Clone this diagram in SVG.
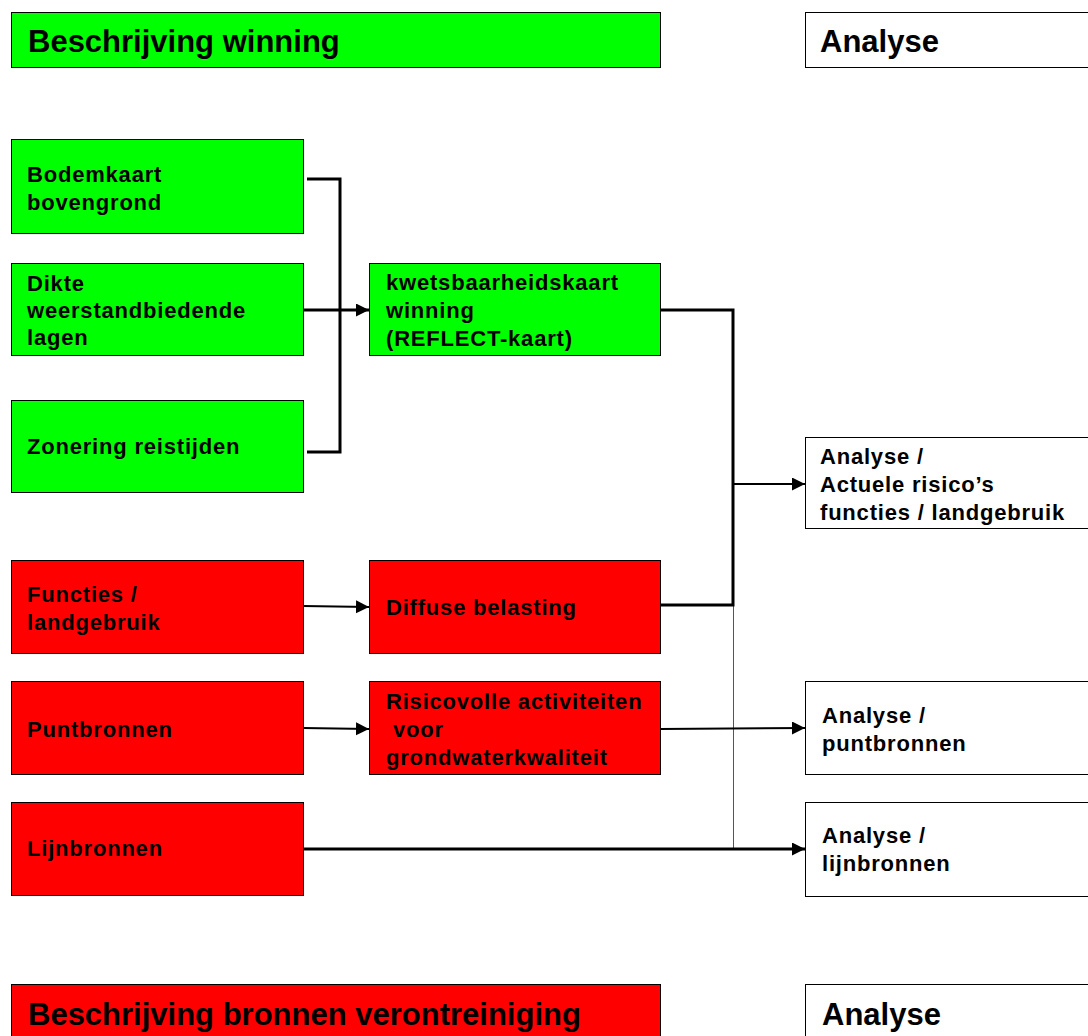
<svg xmlns="http://www.w3.org/2000/svg" width="1088" height="1036" viewBox="0 0 1088 1036">
<style>
.g{fill:#00ff00;stroke:#000;stroke-width:1}
.r{fill:#ff0000;stroke:#000;stroke-width:1}
.w{fill:#fff;stroke:#000;stroke-width:1}
.t{font-family:"Liberation Sans",Arial,sans-serif;font-weight:bold;font-size:22px;letter-spacing:0.8px;fill:#000}
.h{font-family:"Liberation Sans",Arial,sans-serif;font-weight:bold;font-size:31px;fill:#000}
.c{fill:none;stroke:#000;stroke-width:3}
.c2{fill:none;stroke:#000;stroke-width:2}
.thin{fill:none;stroke:#555;stroke-width:1}
</style>
<defs>
<marker id="ah" markerUnits="userSpaceOnUse" markerWidth="14" markerHeight="14" refX="13" refY="6.5" orient="auto">
<path d="M0,0 L13,6.5 L0,13 z" fill="#000"/>
</marker>
</defs>
<rect width="1088" height="1036" fill="#fff"/>

<g id="banner-winning"><rect class="g" x="11.5" y="12.5" width="649" height="55"/><text class="h" x="28" y="52">Beschrijving winning</text></g>
<g id="banner-analyse-top"><rect class="w" x="805.5" y="12.5" width="300" height="55"/><text class="h" x="820" y="52">Analyse</text></g>

<g id="bodemkaart"><rect class="g" x="11.5" y="139.5" width="292" height="94"/><text class="t" x="27" y="182">Bodemkaart</text><text class="t" x="27" y="210">bovengrond</text></g>
<g id="dikte"><rect class="g" x="11.5" y="263.5" width="292" height="92"/><text class="t" x="27" y="291">Dikte</text><text class="t" x="27" y="318">weerstandbiedende</text><text class="t" x="27" y="345">lagen</text></g>
<g id="zonering"><rect class="g" x="11.5" y="400.5" width="292" height="92"/><text class="t" x="27" y="454">Zonering reistijden</text></g>
<g id="kwetsbaarheidskaart"><rect class="g" x="369.5" y="263.5" width="291" height="92"/><text class="t" x="386" y="290">kwetsbaarheidskaart</text><text class="t" x="386" y="318">winning</text><text class="t" x="386" y="346">(REFLECT-kaart)</text></g>

<g id="functies"><rect class="r" x="11.5" y="560.5" width="292" height="93"/><text class="t" x="27" y="602">Functies /</text><text class="t" x="27" y="630">landgebruik</text></g>
<g id="diffuse"><rect class="r" x="369.5" y="560.5" width="291" height="93"/><text class="t" x="386" y="615">Diffuse belasting</text></g>
<g id="puntbronnen"><rect class="r" x="11.5" y="681.5" width="292" height="93"/><text class="t" x="27" y="737">Puntbronnen</text></g>
<g id="risicovolle"><rect class="r" x="369.5" y="681.5" width="291" height="93"/><text class="t" x="386" y="709">Risicovolle activiteiten</text><text class="t" x="386" y="737" xml:space="preserve"> voor</text><text class="t" x="386" y="765">grondwaterkwaliteit</text></g>
<g id="lijnbronnen"><rect class="r" x="11.5" y="802.5" width="292" height="93"/><text class="t" x="27" y="856">Lijnbronnen</text></g>

<g id="analyse-actuele"><rect class="w" x="805.5" y="437.5" width="300" height="91"/><text class="t" x="820" y="464">Analyse /</text><text class="t" x="820" y="492">Actuele risico’s</text><text class="t" x="820" y="520">functies / landgebruik</text></g>
<g id="analyse-punt"><rect class="w" x="805.5" y="681.5" width="300" height="93"/><text class="t" x="822" y="723">Analyse /</text><text class="t" x="822" y="751">puntbronnen</text></g>
<g id="analyse-lijn"><rect class="w" x="805.5" y="802.5" width="300" height="94"/><text class="t" x="822" y="843">Analyse /</text><text class="t" x="822" y="871">lijnbronnen</text></g>

<g id="banner-bronnen"><rect class="r" x="11.5" y="984.5" width="649" height="60"/><text class="h" x="28" y="1025">Beschrijving bronnen verontreiniging</text></g>
<g id="banner-analyse-bottom"><rect class="w" x="805.5" y="984.5" width="300" height="60"/><text class="h" x="822" y="1025">Analyse</text></g>

<g id="connectors">
<path class="c" d="M307,179 H340 V452 H307"/>
<path class="c" d="M303,310 H369" marker-end="url(#ah)"/>
<path class="thin" d="M733.5,605 V848"/>
<path class="c" d="M660,310 H733 V605 H660"/>
<path class="c2" d="M733,484 H805" marker-end="url(#ah)"/>
<path class="c2" d="M303,606 L369,607" marker-end="url(#ah)"/>
<path class="c2" d="M303,728 L369,729" marker-end="url(#ah)"/>
<path class="c2" d="M660,729 L805,728" marker-end="url(#ah)"/>
<path class="c" d="M303,849 H805" marker-end="url(#ah)"/>
</g>
</svg>
